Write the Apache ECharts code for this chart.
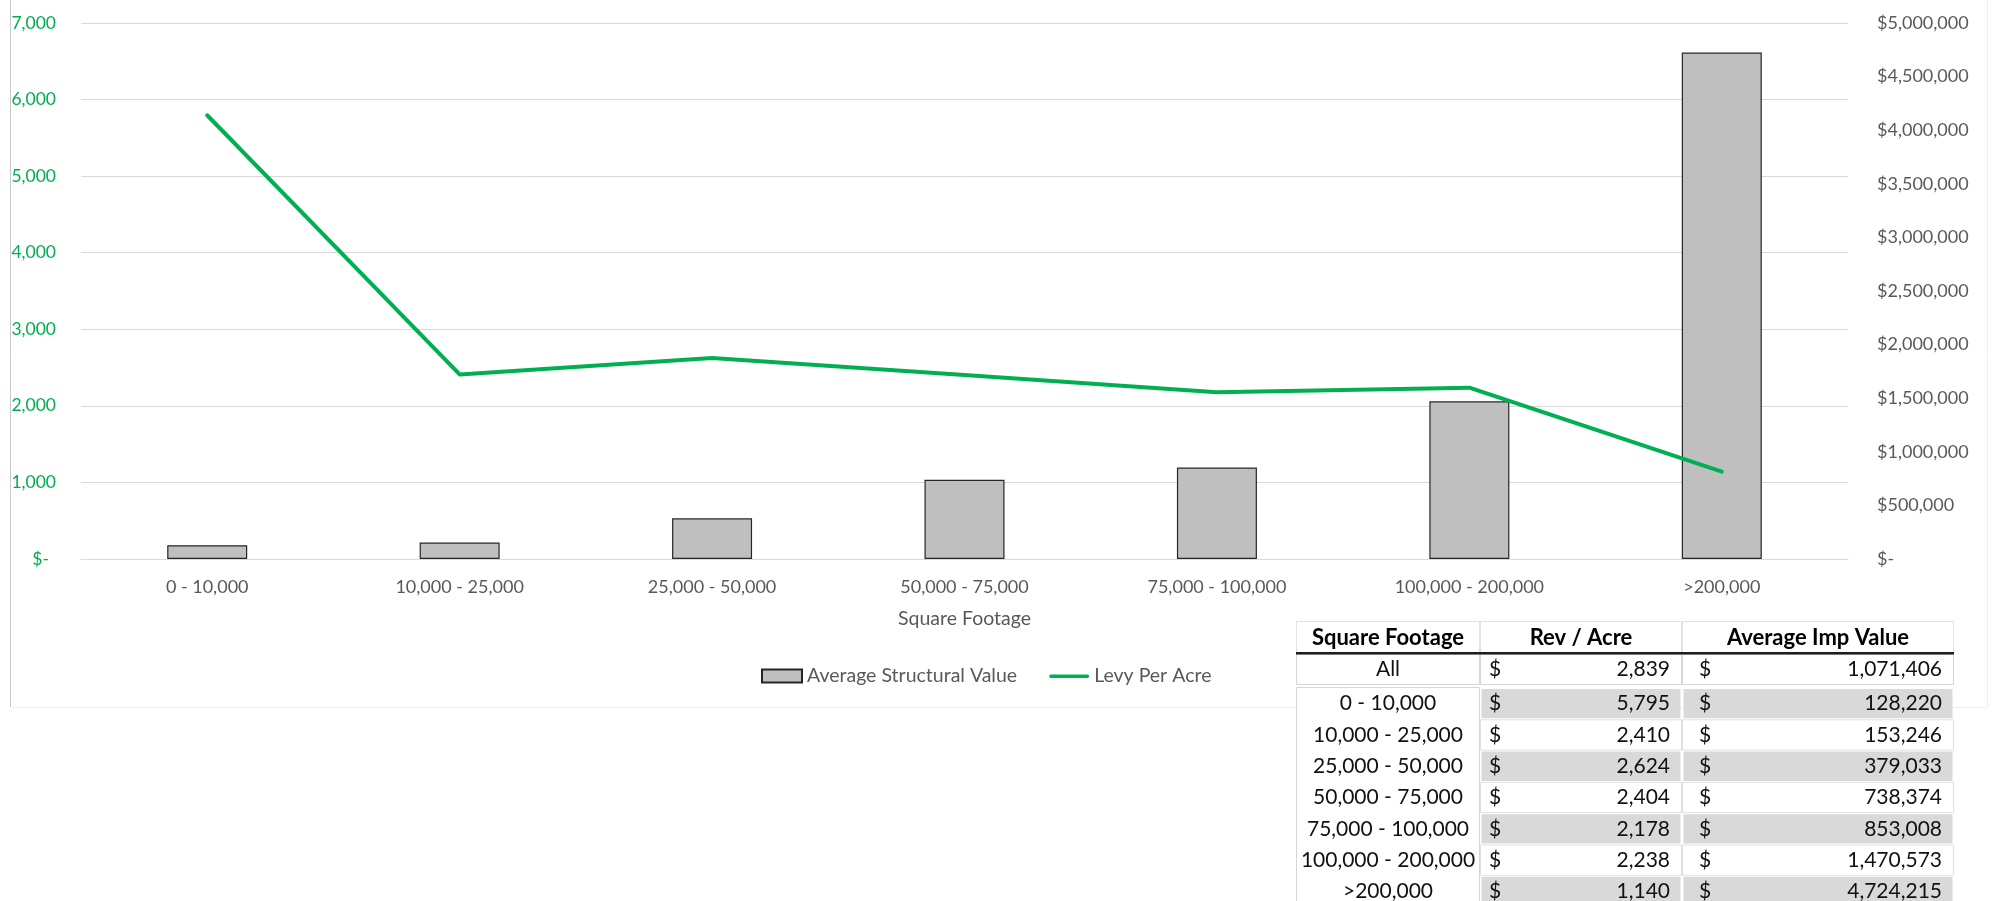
<!DOCTYPE html>
<html>
<head>
<meta charset="utf-8">
<title>Average Structural Value and Levy Per Acre by Square Footage</title>
<script src="https://cdn.jsdelivr.net/npm/echarts@6/dist/echarts.min.js"></script>
<style>
  html, body { margin: 0; padding: 0; background: #ffffff; }
  #chart { width: 1992px; height: 901px; }
</style>
</head>
<body>
<div id="chart"></div>
<script>
// Square-footage brackets shown on the category axis and in the table
const categories = ['0 - 10,000', '10,000 - 25,000', '25,000 - 50,000', '50,000 - 75,000',
  '75,000 - 100,000', '100,000 - 200,000', '>200,000'];
// Average improvement (structural) value per bracket, dollars
const structuralValue = [128220, 153246, 379033, 738374, 853008, 1470573, 4724215];
// Levy (revenue) per acre per bracket, dollars
const levyPerAcre = [5795, 2410, 2624, 2404, 2178, 2238, 1140];
// Summary row for all parcels
const overallLabel = 'All';
const overallRevPerAcre = 2839;
const overallImpValue = 1071406;
// Table column headings
const tableHeaders = ['Square Footage', 'Rev / Acre', 'Average Imp Value'];
// Axis ranges
const levyAxis = { max: 7000, interval: 1000 };
const valueAxis = { max: 5000000, interval: 500000 };

const FONT = 'Lato, "Open Sans", sans-serif';
const GREEN = '#00b050';
const fmt = v => v.toLocaleString('en-US');

// ---- summary table drawn with graphic elements ----
const colEdges = [1296, 1480, 1682, 1954];
const headerTop = 621, headerH = 32;
const allTop = 654, allH = 31;
const dataTop = 688, rowH = 31.3;
const tableFont = '21px ' + FONT;
const tableBold = 'bold 22px ' + FONT;
const gridGrey = '#d6d6d6';

function textEl(str, x, y, align, font, color) {
  return {
    type: 'text', z: 110,
    style: { text: str, x: x, y: y, font: font, fill: color || '#111111',
      align: align, textAlign: align, verticalAlign: 'middle', textVerticalAlign: 'middle' }
  };
}
function rectEl(x, y, w, h, fill, stroke, z) {
  return {
    type: 'rect', z: z || 100,
    shape: { x: x, y: y, width: w, height: h },
    style: { fill: fill, stroke: stroke || null, lineWidth: stroke ? 1 : 0 }
  };
}
function moneyCells(els, col, yMid, value) {
  const left = colEdges[col], right = colEdges[col + 1];
  els.push(textEl('$', left + (col === 1 ? 9 : 17), yMid, 'left', tableFont));
  els.push(textEl(fmt(value), right - 12, yMid, 'right', tableFont));
}

const tableEls = [];
// header
for (let c = 0; c < 3; c++) {
  const w = colEdges[c + 1] - colEdges[c];
  tableEls.push(rectEl(colEdges[c] + 0.5, headerTop + 0.5, w - 1, headerH - 1, '#ffffff', '#e2e2e2'));
  tableEls.push(textEl(tableHeaders[c], colEdges[c] + w / 2, headerTop + headerH / 2 + 1, 'center', tableBold, '#000000'));
}
tableEls.push(rectEl(colEdges[0], headerTop + headerH - 1, colEdges[3] - colEdges[0], 2.5, '#1e1e1e', null, 105));
// "All" row
for (let c = 0; c < 3; c++) {
  const w = colEdges[c + 1] - colEdges[c];
  tableEls.push(rectEl(colEdges[c] + 0.5, allTop + 0.5, w - 1, allH - 1, '#ffffff', gridGrey));
}
const allMid = allTop + allH / 2;
tableEls.push(textEl(overallLabel, (colEdges[0] + colEdges[1]) / 2, allMid, 'center', tableFont));
moneyCells(tableEls, 1, allMid, overallRevPerAcre);
moneyCells(tableEls, 2, allMid, overallImpValue);
// bracket rows
tableEls.push(rectEl(colEdges[0] + 0.5, dataTop - 0.5, colEdges[1] - colEdges[0] - 1, rowH * categories.length + 2, '#ffffff', gridGrey));
categories.forEach((cat, i) => {
  const y0 = dataTop + i * rowH;
  const shaded = i % 2 === 0;
  for (let c = 1; c < 3; c++) {
    const w = colEdges[c + 1] - colEdges[c];
    if (shaded) {
      tableEls.push(rectEl(colEdges[c] + 1.5, y0 + 1, w - 3, rowH - 2, '#d9d9d9'));
    } else {
      tableEls.push(rectEl(colEdges[c] + 0.5, y0 + 0.5, w - 1, rowH - 1, '#ffffff', '#e0e0e0'));
    }
  }
  const mid = y0 + rowH / 2;
  tableEls.push(textEl(cat, (colEdges[0] + colEdges[1]) / 2, mid, 'center', tableFont));
  moneyCells(tableEls, 1, mid, levyPerAcre[i]);
  moneyCells(tableEls, 2, mid, structuralValue[i]);
});

// chart-area frame
const frameEls = [
  { type: 'line', z: 1, shape: { x1: 10.5, y1: 0, x2: 10.5, y2: 707 }, style: { stroke: '#c8c8c8', lineWidth: 1 } },
  { type: 'line', z: 1, shape: { x1: 10.5, y1: 707.5, x2: 1987, y2: 707.5 }, style: { stroke: '#efefef', lineWidth: 1 } },
  { type: 'line', z: 1, shape: { x1: 1987.5, y1: 0, x2: 1987.5, y2: 707 }, style: { stroke: '#efefef', lineWidth: 1 } }
];

// legend key for the levy line: a short horizontal stroke inside a 40x13 box
const lineKeyIcon = 'path://M0,0 M40,13 M1,5 L39,5 A1.75,1.75 0 0 1 39,8.5 L1,8.5 A1.75,1.75 0 0 1 1,5 Z';

const chart = echarts.init(document.getElementById('chart'), null, { renderer: 'canvas' });
chart.setOption({
  animation: false,
  backgroundColor: '#ffffff',
  textStyle: { fontFamily: FONT },
  grid: { left: 81, right: 144, top: 23, bottom: 342, containLabel: false },
  legend: {
    left: 756, top: 661,
    itemWidth: 40, itemHeight: 13, itemGap: 32,
    textStyle: { fontFamily: FONT, fontSize: 19.5, color: '#595959' },
    data: [
      { name: 'Average Structural Value', icon: 'rect' },
      { name: 'Levy Per Acre', icon: lineKeyIcon, itemStyle: { color: GREEN, borderWidth: 0 } }
    ]
  },
  xAxis: {
    type: 'category',
    data: categories,
    name: 'Square Footage',
    nameLocation: 'middle',
    nameGap: 50,
    nameTextStyle: { fontFamily: FONT, fontSize: 19.5, color: '#595959' },
    axisLine: { show: true, lineStyle: { color: '#d9d9d9', width: 1 } },
    axisTick: { show: false },
    axisLabel: { fontFamily: FONT, fontSize: 18, color: '#595959', margin: 19, interval: 0 }
  },
  yAxis: [
    {
      type: 'value', min: 0, max: levyAxis.max, interval: levyAxis.interval,
      axisLine: { show: false }, axisTick: { show: false },
      splitLine: { show: true, lineStyle: { color: '#d9d9d9', width: 1 } },
      axisLabel: {
        margin: 25, fontFamily: FONT, fontSize: 17.5, color: GREEN,
        formatter: v => v === 0 ? '{z|$-}' : fmt(v),
        rich: { z: { fontFamily: FONT, fontSize: 17.5, color: GREEN, padding: [0, 7, 0, 0] } }
      }
    },
    {
      type: 'value', min: 0, max: valueAxis.max, interval: valueAxis.interval,
      position: 'right',
      axisLine: { show: false }, axisTick: { show: false },
      splitLine: { show: false },
      axisLabel: {
        margin: 29, fontFamily: FONT, fontSize: 18, color: '#595959', align: 'left',
        formatter: v => v === 0 ? '$-' : '$' + fmt(v)
      }
    }
  ],
  series: [
    {
      name: 'Average Structural Value',
      type: 'bar',
      yAxisIndex: 1,
      data: structuralValue,
      barWidth: 80,
      itemStyle: { color: '#bfbfbf', borderColor: '#262626', borderWidth: 1.2 },
      z: 2
    },
    {
      name: 'Levy Per Acre',
      type: 'line',
      yAxisIndex: 0,
      data: levyPerAcre,
      symbol: 'none',
      lineStyle: { color: GREEN, width: 4, cap: 'round', join: 'round' },
      itemStyle: { color: GREEN },
      z: 3
    }
  ],
  graphic: { elements: frameEls.concat(tableEls) }
});
</script>
</body>
</html>
